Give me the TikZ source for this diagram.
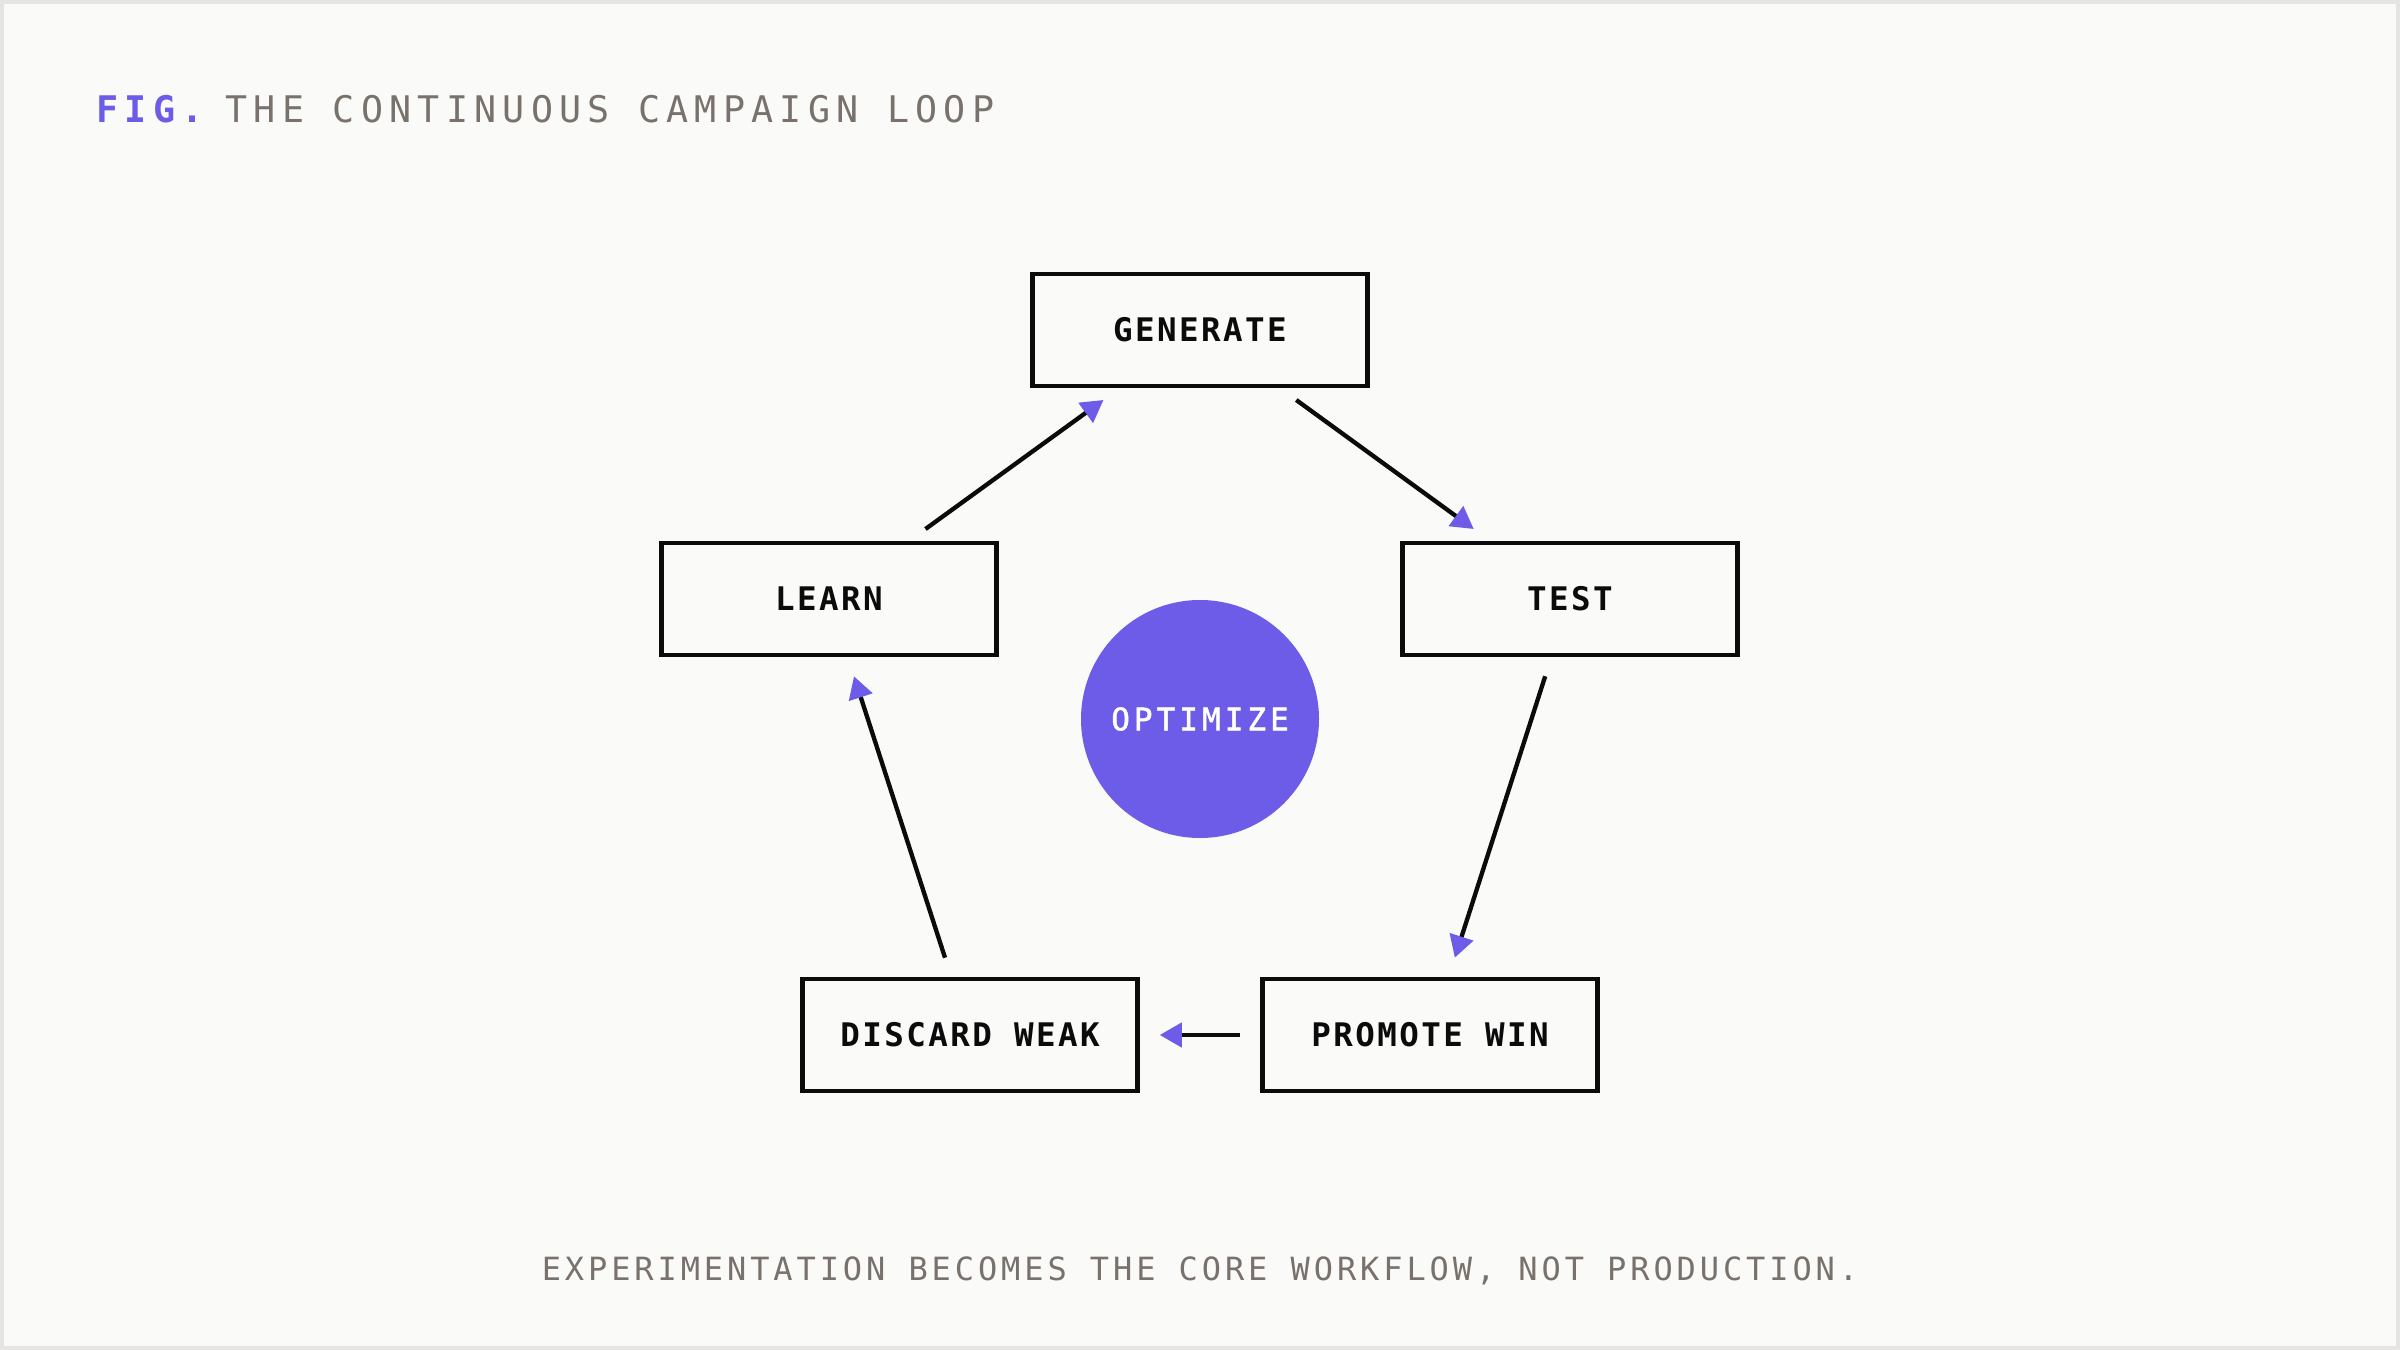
\documentclass[tikz,border=0pt]{standalone}
\usepackage{fontspec}
\usetikzlibrary{arrows.meta}
\newfontfamily\titlefont[LetterSpace=17.1]{DejaVu Sans Mono}
\newfontfamily\boxfont[LetterSpace=7.5]{DejaVu Sans Mono}
\newfontfamily\optfont[LetterSpace=13,FakeBold=1.6]{DejaVu Sans Mono}
\newfontfamily\footfont[LetterSpace=12.2]{DejaVu Sans Mono}
\definecolor{bgc}{HTML}{FAFAF8}
\definecolor{framec}{HTML}{E6E5E3}
\definecolor{purp}{HTML}{6C5CE7}
\definecolor{greyt}{HTML}{78716C}
\definecolor{inkc}{HTML}{0B0B0B}
\tikzset{
  stepbox/.style={draw=inkc, line width=1.35pt, fill=bgc, minimum width=100.5pt, minimum height=33.6pt, inner sep=0pt,
    font=\boxfont\bfseries\fontsize{9.75}{11}\selectfont, text=inkc},
  flow/.style={draw=inkc, line width=1.3pt, shorten <=6pt, shorten >=6pt,
    -{Triangle[length=6.6pt,width=7.2pt,color=purp]}},
}
\begin{document}
\begin{tikzpicture}[x=0.3pt,y=-0.3pt]
\fill[framec] (0,0) rectangle (2400,1350);
\fill[bgc] (4,4) rectangle (2396,1346);
\useasboundingbox (0,0) rectangle (2400,1350);

\node[anchor=base west, inner sep=0pt, text=purp, font=\titlefont\bfseries\fontsize{11}{13}\selectfont] (fig) at (96,123) {FIG.};
\node[anchor=base west, inner sep=0pt, text=greyt, font=\titlefont\fontsize{11}{13}\selectfont] (title) at (225,123) {THE CONTINUOUS CAMPAIGN LOOP};

\node[stepbox] (gen) at (1200,330) {GENERATE};
\node[stepbox] (test) at (1570,599) {TEST};
\node[stepbox] (learn) at (829,599) {LEARN};
\node[stepbox] (prom) at (1430,1035) {PROMOTE WIN};
\node[stepbox] (disc) at (970,1035) {DISCARD WEAK};

\node[circle, fill=purp, minimum size=71.4pt, inner sep=0pt, text=white, font=\optfont\fontsize{9.3}{11}\selectfont] (opt) at (1200,719) {OPTIMIZE};

\draw[flow] (gen) -- (test);
\draw[flow] (test) -- (prom);
\draw[flow] (prom) -- (disc);
\draw[flow] (disc) -- (learn);
\draw[flow] (learn) -- (gen);

\node[anchor=base, inner sep=0pt, text=greyt, font=\footfont\fontsize{9.6}{11}\selectfont] (foot) at (1200,1280) {EXPERIMENTATION BECOMES THE CORE WORKFLOW, NOT PRODUCTION.};
\end{tikzpicture}
\end{document}
